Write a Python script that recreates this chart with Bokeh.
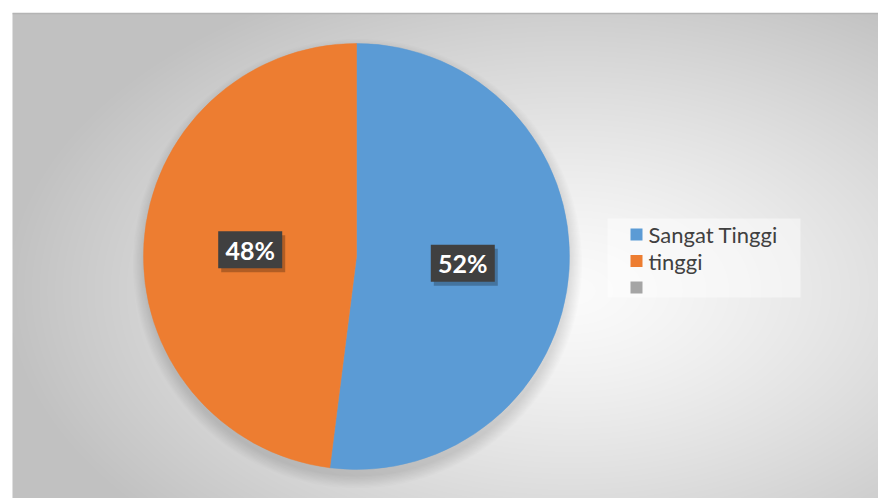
import numpy as np
from bokeh.plotting import figure
from bokeh.models import ColumnDataSource, Range1d
from bokeh.embed import file_html
from bokeh.resources import INLINE
from bokeh.core.properties import value

# ---- data ----
categories = ["Sangat Tinggi", "tinggi", ""]
values = [52, 48, 0]
colors = ["#5B9BD5", "#ED7D31", "#A5A5A5"]

W, H = 878, 498
p = figure(width=W, height=H, x_range=Range1d(0, W), y_range=Range1d(0, H),
           output_backend="svg", toolbar_location=None, min_border=0)
p.axis.visible = False
p.grid.visible = False
p.outline_line_color = None
p.background_fill_color = "white"
p.border_fill_color = "white"

# ---- background radial gradient (chart area) ----
gx0, gy0 = 12, 13  # top-left of chart area in page pixels
gw, gh = W - gx0, H - gy0
xs = np.arange(gw) + float(gx0)
ys = np.arange(gh) + float(gy0)
X, Y = np.meshgrid(xs, ys)
d = np.sqrt(((X - 570) / 570) ** 2 + ((Y - 290) / 340) ** 2)
d = np.clip(d, 0, 1)
g = (251 - 58 * d ** 1.3).astype(np.uint32)
img = (np.uint32(255) << 24) | (g << 16) | (g << 8) | g
img = np.ascontiguousarray(img[::-1])
p.image_rgba(image=[img], x=gx0, y=0, dw=gw, dh=gh)
p.segment(x0=[gx0], y0=[H - gy0], x1=[W], y1=[H - gy0], line_color="#b4b4b4", line_width=1.5)

# ---- pie ----
cx, cy, R = 356, H - 256, 213
total = float(sum(values))
cum = np.concatenate([[0], np.cumsum(values)]) / total
starts = np.pi / 2 - 2 * np.pi * cum[:-1]
ends = np.pi / 2 - 2 * np.pi * cum[1:]

# soft shadow (mostly below)
for k in range(10):
    p.circle(x=[cx + 1], y=[cy - 7], radius=R + k * 1.3, fill_color="black",
             fill_alpha=0.012, line_color=None)

mask = [v > 0 for v in values]
src = ColumnDataSource(dict(
    start=[s for s, m in zip(starts, mask) if m],
    end=[e for e, m in zip(ends, mask) if m],
    color=[c for c, m in zip(colors, mask) if m],
))
p.wedge(x=cx, y=cy, radius=R, start_angle="start", end_angle="end", direction="clock",
        fill_color="color", line_color="color", line_width=0.5, source=src)

# ---- data labels ----
mids = (starts + ends) / 2
lx = [cx + 0.5 * R * np.cos(a) for a, m in zip(mids, mask) if m]
ly = [cy + 0.5 * R * np.sin(a) for a, m in zip(mids, mask) if m]
lt = ["%d%%" % round(v / total * 100) for v in values if v > 0]
p.rect(x=[x + 3 for x in lx], y=[y - 4 for y in ly], width=64, height=37,
       fill_color="black", fill_alpha=0.25, line_color=None)
p.rect(x=lx, y=ly, width=64, height=37, fill_color="#404040", line_color=None)
p.text(x=lx, y=ly, text=lt, text_align="center", text_baseline="middle",
       text_font=value("Lato"), text_font_style="bold", text_font_size="25px",
       text_color="white")

# ---- legend ----
p.rect(x=[703.5], y=[H - 257.5], width=193, height=79, fill_color="white",
       fill_alpha=0.45, line_color=None)
ly_leg = [H - 234 - 26.5 * i for i in range(len(categories))]
p.rect(x=[636] * len(categories), y=ly_leg, width=12, height=12,
       fill_color=colors, line_color=None)
p.text(x=[648] * len(categories), y=ly_leg, text=categories, text_align="left",
       text_baseline="middle", text_font=value("Lato"), text_font_size="22px",
       text_color="#404040")

open("out.html", "w").write(file_html(p, INLINE))
